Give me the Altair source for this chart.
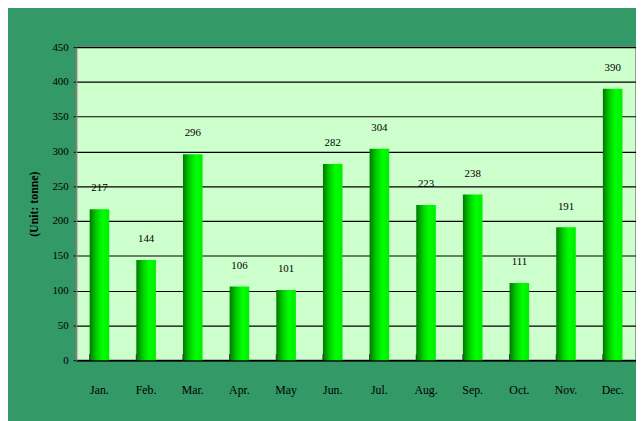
import altair as alt
import pandas as pd

months = ["Jan.", "Feb.", "Mar.", "Apr.", "May", "Jun.", "Jul.", "Aug.", "Sep.", "Oct.", "Nov.", "Dec."]
values = [217, 144, 296, 106, 101, 282, 304, 223, 238, 111, 191, 390]
y_ticks = [0, 50, 100, 150, 200, 250, 300, 350, 400, 450]

df = pd.DataFrame({"month": months, "value": values})

FONT = "Liberation Serif"

gradient = alt.LinearGradient(
    gradient="linear",
    stops=[
        alt.GradientStop(color="#007A00", offset=0),
        alt.GradientStop(color="#00D000", offset=0.35),
        alt.GradientStop(color="#00FF00", offset=0.65),
        alt.GradientStop(color="#00EE00", offset=1),
    ],
    x1=0, x2=1, y1=0, y2=0,
)

x_axis = alt.Axis(
    title=None,
    labelAngle=0,
    labelFont=FONT,
    labelFontSize=12,
    labelColor="#000000",
    labelPadding=25,
    ticks=False,
    domainColor="#000000",
    domainWidth=1.5,
    grid=False,
)
x_scale = alt.Scale(paddingInner=0.58, paddingOuter=0.29)

y_axis = alt.Axis(
    title="(Unit: tonne)",
    values=y_ticks,
    labelOverlap=False,
    titleFont=FONT,
    titleFontSize=12,
    titleFontWeight="bold",
    titleColor="#000000",
    titleX=-43,
    titleAlign="center",
    titleBaseline="middle",
    labelFont=FONT,
    labelFontSize=11,
    labelColor="#000000",
    labelPadding=5,
    tickSize=3,
    tickColor="#000000",
    domainColor="#808080",
    domainWidth=1.5,
    grid=True,
    gridColor="#000000",
    gridWidth=1.2,
)
y_scale = alt.Scale(domain=[0, 450], nice=False)

x_enc = alt.X("month:N", sort=months, scale=x_scale, axis=x_axis)
y_enc = alt.Y("value:Q", scale=y_scale, axis=y_axis)

bars = alt.Chart(df).mark_bar(color=gradient).encode(x=x_enc, y=y_enc)

labels = alt.Chart(df).mark_text(
    font=FONT, fontSize=11, color="#000000", baseline="middle", dy=-21
).encode(x=x_enc, y=y_enc, text=alt.Text("value:Q"))

ticks = alt.Chart(df).mark_rule(color="#333333", strokeWidth=1).encode(
    x=alt.X("month:N", sort=months, scale=x_scale, axis=x_axis, bandPosition=0),
    y=alt.value(311),
    y2=alt.value(317),
)

chart = (
    alt.layer(bars, ticks, labels)
    .properties(
        width=567,
        height=317,
        background="#339966",
        autosize=alt.AutoSizeParams(type="none"),
        padding={"left": 69, "top": 37, "right": 0, "bottom": 59},
    )
    .configure_view(fill="#CCFFCC", stroke="#808080", strokeWidth=1.5)
)

chart.save("out.html", embed_options={"renderer": "svg", "actions": False})
